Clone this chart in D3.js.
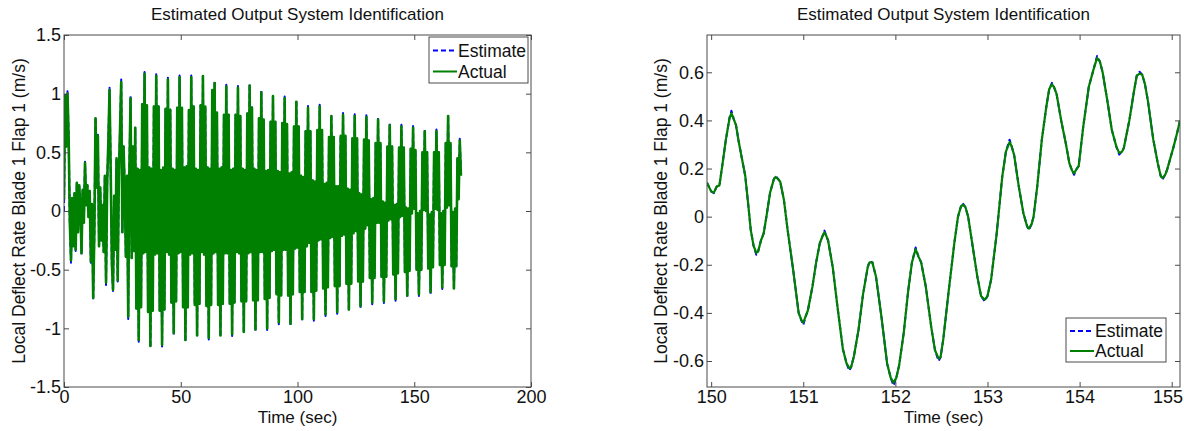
<!DOCTYPE html>
<html><head><meta charset="utf-8">
<script src="https://cdn.jsdelivr.net/npm/d3@7"></script>
<style>
body{margin:0;background:#fff;}
svg text{font-family:Arial,"Liberation Sans",Helvetica,sans-serif;fill:#111;}
</style></head><body>
<svg id="chart" width="1184" height="431"></svg>
<script>
// ---------------- data ----------------
const chartTitle = "Estimated Output System Identification";
const yAxisLabel = "Local Deflect Rate Blade 1 Flap 1 (m/s)";
const xAxisLabel = "Time (sec)";
const seriesNames = ["Estimate", "Actual"];

const leftXTicks = [0, 50, 100, 150, 200];
const leftYTicks = [-1.5, -1, -0.5, 0, 0.5, 1, 1.5];
const leftYTickLabels = ["-1.5", "-1", "-0.5", "0", "0.5", "1", "1.5"];
const rightXTicks = [150, 151, 152, 153, 154, 155];
const rightYTicks = [-0.6, -0.4, -0.2, 0, 0.2, 0.4, 0.6];
const rightYTickLabels = ["-0.6", "-0.4", "-0.2", "0", "0.2", "0.4", "0.6"];

// left panel: extremes read every 0.5 s (0 .. 170 s)
const leftSampleStep = 0.5;
const leftActualA = [0.10,0.98,0.55,1.00,0.62,-0.10,-0.42,0.11,-0.30,0.15,
 -0.33,0.24,-0.18,0.22,0.05,-0.36,0.18,-0.10,0.41,0.05,
 0.22,-0.05,0.17,-0.43,0.06,-0.74,-0.18,0.79,0.20,0.64,
 -0.30,0.20,-0.25,0.05,-0.35,0.30,-0.61,0.25,0.60,1.03,
 0.35,-0.45,-0.67,0.13,-0.33,0.45,-0.59,0.30,0.70,1.10,
 -0.18,0.55,0.20,-0.39,0.30,-0.90,0.35,0.96,-0.40,0.55];
const leftActualB = [
 -0.34,0.71,-0.83,0.36,-1.10,0.35,-0.82,0.91,-0.36,1.17,
 -0.35,0.90,-0.86,0.37,-1.15,0.36,-0.85,0.89,-0.37,1.15,
 -0.36,0.89,-0.85,0.35,-1.14,0.37,-0.84,0.87,-0.35,1.12,
 -0.37,0.86,-0.78,0.36,-1.04,0.35,-0.77,0.88,-0.36,1.14,
 -0.35,0.88,-0.82,0.37,-1.10,0.38,-0.82,0.86,-0.37,1.14,
 -0.36,0.89,-0.80,0.36,-1.06,0.35,-0.79,0.90,-0.35,1.15,
 -0.37,0.89,-0.81,0.37,-1.08,0.36,-0.80,1.03,-0.36,1.09,
 -0.35,0.84,-0.80,0.36,-1.06,0.37,-0.79,0.82,-0.36,1.06,
 -0.36,0.82,-0.79,0.35,-1.05,0.36,-0.78,0.82,-0.35,1.05,
 -0.36,0.81,-0.77,0.36,-1.03,0.35,-0.77,0.83,-0.36,1.07,
 -0.35,0.88,-0.76,0.36,-1.01,0.35,-0.76,0.79,-0.35,1.01,
 -0.35,0.78,-0.75,0.34,-1.00,0.35,-0.74,0.76,-0.34,0.98,
 -0.33,0.76,-0.71,0.34,-0.95,0.33,-0.72,0.75,-0.33,0.96,
 -0.33,0.74,-0.72,0.32,-0.96,0.33,-0.71,0.72,-0.32,0.93];
const leftActualC = [
 -0.31,0.72,-0.69,0.30,-0.92,0.29,-0.69,0.68,-0.30,0.88,
 -0.27,0.68,-0.69,0.26,-0.92,0.25,-0.68,0.69,-0.25,0.89,
 -0.24,0.69,-0.66,0.23,-0.88,0.24,-0.65,0.63,-0.23,0.81,
 -0.22,0.63,-0.64,0.21,-0.86,0.21,-0.64,0.64,-0.21,0.82,
 -0.20,0.64,-0.62,0.19,-0.84,0.18,-0.62,0.62,-0.19,0.81,
 -0.17,0.62,-0.60,0.15,-0.81,0.14,-0.60,0.61,-0.15,0.80,
 -0.12,0.60,-0.57,0.10,-0.78,0.11,-0.57,0.58,-0.10,0.78,
 -0.10,0.58,-0.56,0.08,-0.77,0.07,-0.56,0.55,-0.08,0.73,
 -0.07,0.55,-0.54,0.05,-0.75,0.06,-0.53,0.54,-0.05,0.72,
 -0.04,0.54,-0.52,0.03,-0.72,0.02,-0.51,0.53,-0.02,0.71,
 0.02,0.52,-0.50,-0.02,-0.71,0.00,-0.50,0.50,0.01,0.68,
 0.00,0.50,-0.49,-0.03,-0.69,-0.01,-0.48,0.50,0.02,0.68,
 0.01,0.50,-0.46,-0.02,-0.65,0.00,-0.46,0.58,0.03,0.81,
 0.05,0.58,-0.47,-0.01,-0.66,0.02,-0.47,0.45,0.10,0.60,
 0.30];
const leftEstimateA = [0.00,1.00,0.55,1.02,0.62,-0.10,-0.44,0.11,-0.30,0.15,
 -0.34,0.24,-0.18,0.22,0.05,-0.37,0.18,-0.10,0.42,0.05,
 0.22,-0.05,0.17,-0.44,0.06,-0.76,-0.18,0.80,0.20,0.65,
 -0.30,0.20,-0.25,0.05,-0.35,0.30,-0.63,0.25,0.60,1.05,
 0.35,-0.45,-0.69,0.13,-0.33,0.45,-0.60,0.30,0.70,1.12,
 -0.18,0.55,0.20,-0.39,0.30,-0.92,0.35,0.98,-0.40,0.55];
const leftEstimateB = [
 -0.34,0.71,-0.83,0.36,-1.115,0.35,-0.82,0.91,-0.36,1.185,
 -0.35,0.90,-0.86,0.37,-1.165,0.36,-0.85,0.89,-0.37,1.165,
 -0.36,0.89,-0.85,0.35,-1.155,0.37,-0.84,0.87,-0.35,1.135,
 -0.37,0.865,-0.78,0.36,-1.055,0.35,-0.77,0.88,-0.36,1.155,
 -0.35,0.88,-0.82,0.37,-1.115,0.38,-0.82,0.86,-0.37,1.155,
 -0.36,0.89,-0.80,0.36,-1.075,0.35,-0.79,0.90,-0.35,1.165,
 -0.37,0.89,-0.81,0.37,-1.095,0.36,-0.80,1.04,-0.36,1.105,
 -0.35,0.84,-0.80,0.36,-1.075,0.37,-0.79,0.82,-0.36,1.075,
 -0.36,0.82,-0.79,0.35,-1.065,0.36,-0.78,0.82,-0.35,1.065,
 -0.36,0.81,-0.77,0.36,-1.045,0.35,-0.77,0.83,-0.36,1.085,
 -0.35,0.885,-0.76,0.36,-1.025,0.35,-0.76,0.79,-0.35,1.025,
 -0.35,0.78,-0.75,0.34,-1.015,0.35,-0.74,0.76,-0.34,0.995,
 -0.33,0.76,-0.71,0.34,-0.965,0.33,-0.72,0.75,-0.33,0.975,
 -0.33,0.74,-0.72,0.32,-0.975,0.33,-0.71,0.72,-0.32,0.945];
const leftEstimateC = [
 -0.31,0.72,-0.69,0.30,-0.935,0.29,-0.69,0.68,-0.30,0.895,
 -0.27,0.68,-0.69,0.26,-0.935,0.25,-0.68,0.69,-0.25,0.905,
 -0.24,0.69,-0.66,0.23,-0.895,0.24,-0.65,0.63,-0.23,0.825,
 -0.22,0.63,-0.64,0.21,-0.875,0.21,-0.64,0.64,-0.21,0.835,
 -0.20,0.64,-0.62,0.19,-0.855,0.18,-0.62,0.62,-0.19,0.825,
 -0.17,0.62,-0.60,0.15,-0.825,0.14,-0.60,0.61,-0.15,0.815,
 -0.12,0.60,-0.57,0.10,-0.795,0.11,-0.57,0.58,-0.10,0.795,
 -0.10,0.58,-0.56,0.08,-0.785,0.07,-0.56,0.55,-0.08,0.745,
 -0.07,0.55,-0.54,0.05,-0.765,0.06,-0.53,0.54,-0.05,0.735,
 -0.04,0.54,-0.52,0.03,-0.735,0.02,-0.51,0.53,-0.02,0.725,
 0.02,0.52,-0.50,-0.02,-0.725,0.00,-0.50,0.50,0.01,0.695,
 0.00,0.50,-0.49,-0.03,-0.705,-0.01,-0.48,0.50,0.02,0.695,
 0.01,0.50,-0.46,-0.02,-0.665,0.00,-0.46,0.58,0.03,0.825,
 0.05,0.58,-0.47,-0.01,-0.675,0.02,-0.47,0.45,0.10,0.615,
 0.30];

// right panel: zoomed window 150 .. 155 s
const rightTime = [149.955,150.00,150.03,150.06,150.09,150.12,150.16,150.20,150.22,150.25,
 150.27,150.30,150.33,150.37,150.40,150.43,150.46,150.49,150.51,150.54,
 150.57,150.60,150.64,150.68,150.70,150.73,150.75,150.79,150.83,150.89,
 150.95,150.98,151.00,151.03,151.05,151.10,151.14,151.18,151.21,151.23,
 151.25,151.27,151.32,151.37,151.43,151.47,151.50,151.52,151.55,151.60,
 151.65,151.70,151.72,151.75,151.79,151.85,151.91,151.95,151.98,152.01,
 152.04,152.09,152.14,152.18,152.22,152.25,152.28,152.33,152.39,152.43,
 152.47,152.49,152.52,152.58,152.64,152.68,152.71,152.73,152.76,152.79,
 152.83,152.89,152.93,152.97,153.00,153.04,153.10,153.16,153.20,153.24,
 153.26,153.29,153.34,153.39,153.43,153.45,153.48,153.50,153.54,153.59,
 153.64,153.67,153.70,153.72,153.75,153.80,153.85,153.89,153.92,153.94,
 153.97,153.99,154.04,154.10,154.15,154.19,154.22,154.25,154.30,154.35,
 154.40,154.43,154.46,154.48,154.54,154.59,154.62,154.65,154.68,154.71,
 154.74,154.80,154.85,154.88,154.90,154.93,154.95,155.02,155.06,155.09];
const rightActual = [0.141,0.105,0.100,0.125,0.130,0.210,0.320,0.410,0.430,0.400,
 0.380,0.310,0.250,0.170,0.060,-0.055,-0.120,-0.150,-0.145,-0.100,
 -0.070,0.000,0.100,0.155,0.165,0.155,0.145,0.070,-0.055,-0.220,
 -0.400,-0.430,-0.440,-0.410,-0.390,-0.290,-0.190,-0.110,-0.080,-0.065,
 -0.080,-0.100,-0.210,-0.370,-0.550,-0.610,-0.630,-0.625,-0.580,-0.470,
 -0.320,-0.210,-0.190,-0.190,-0.250,-0.420,-0.610,-0.670,-0.690,-0.670,
 -0.620,-0.485,-0.305,-0.190,-0.135,-0.165,-0.190,-0.290,-0.460,-0.555,
 -0.590,-0.585,-0.510,-0.305,-0.110,0.000,0.040,0.050,0.040,0.000,
 -0.100,-0.250,-0.330,-0.345,-0.330,-0.260,-0.070,0.165,0.270,0.310,
 0.295,0.255,0.125,0.014,-0.040,-0.050,-0.030,0.000,0.125,0.320,
 0.460,0.530,0.550,0.540,0.510,0.400,0.305,0.220,0.190,0.180,
 0.200,0.210,0.375,0.540,0.610,0.660,0.645,0.600,0.485,0.360,
 0.290,0.265,0.270,0.285,0.400,0.520,0.585,0.595,0.590,0.550,
 0.485,0.320,0.220,0.170,0.160,0.175,0.195,0.290,0.350,0.400];
const rightEstimate = [0.141,0.105,0.098,0.125,0.130,0.210,0.320,0.412,0.440,0.400,
 0.380,0.310,0.250,0.170,0.060,-0.055,-0.120,-0.158,-0.145,-0.100,
 -0.070,0.000,0.100,0.155,0.170,0.155,0.145,0.070,-0.055,-0.220,
 -0.400,-0.432,-0.450,-0.410,-0.390,-0.290,-0.190,-0.110,-0.080,-0.058,
 -0.080,-0.100,-0.210,-0.370,-0.550,-0.610,-0.640,-0.625,-0.580,-0.470,
 -0.320,-0.210,-0.185,-0.190,-0.250,-0.420,-0.610,-0.670,-0.702,-0.670,
 -0.620,-0.485,-0.305,-0.190,-0.128,-0.165,-0.190,-0.290,-0.460,-0.555,
 -0.600,-0.585,-0.510,-0.305,-0.110,0.000,0.040,0.056,0.040,0.000,
 -0.100,-0.250,-0.330,-0.352,-0.330,-0.260,-0.070,0.165,0.270,0.320,
 0.295,0.255,0.125,0.014,-0.040,-0.056,-0.030,0.000,0.125,0.320,
 0.460,0.530,0.556,0.540,0.510,0.400,0.305,0.220,0.190,0.174,
 0.200,0.210,0.375,0.540,0.610,0.668,0.645,0.600,0.485,0.360,
 0.290,0.258,0.270,0.285,0.400,0.520,0.585,0.602,0.590,0.550,
 0.485,0.320,0.220,0.170,0.154,0.175,0.195,0.290,0.350,0.400];

// ---------------- drawing ----------------
const leftActual = leftActualA.concat(leftActualB, leftActualC);
const leftEstimate = leftEstimateA.concat(leftEstimateB, leftEstimateC);
const leftTime = d3.range(leftActual.length).map(i => i * leftSampleStep);

const AX = "#4a4a4a", GREEN = "#008000", BLUE = "#0000ff";
const W = 1184;
const svg = d3.select("#chart");

const panels = [
  {id:"L", x0:64, x1:531, y0:35, y1:387, xDomain:[0,200], yDomain:[-1.5,1.5],
   xTicks:leftXTicks, yTicks:leftYTicks, yLabels:leftYTickLabels,
   time:leftTime, est:leftEstimate, act:leftActual, lw:2.6,
   legend:{x:429, y:37, w:99, h:46}, ylabX:25},
  {id:"R", x0:707, x1:1180, y0:35, y1:387, xDomain:[149.955,155.09], yDomain:[-0.708,0.755],
   xTicks:rightXTicks, yTicks:rightYTicks, yLabels:rightYTickLabels,
   time:rightTime, est:rightEstimate, act:rightActual, lw:2.2,
   legend:{x:1066, y:318, w:100, h:44}, ylabX:667}
];

panels.forEach(p => {
  const x = d3.scaleLinear().domain(p.xDomain).range([p.x0, p.x1]);
  const y = d3.scaleLinear().domain(p.yDomain).range([p.y1, p.y0]);
  const g = svg.append("g");

  g.append("clipPath").attr("id", "clip" + p.id)
    .append("rect").attr("x", p.x0).attr("y", p.y0)
    .attr("width", p.x1 - p.x0).attr("height", p.y1 - p.y0);

  const line = d3.line().x(d => x(d[0])).y(d => y(d[1]));
  const estData = p.time.map((t, i) => [t, p.est[i]]);
  const actData = p.time.map((t, i) => [t, p.act[i]]);
  const plot = g.append("g").attr("clip-path", `url(#clip${p.id})`);
  plot.append("path").datum(estData).attr("d", line)
    .attr("fill", "none").attr("stroke", BLUE).attr("stroke-width", 2)
    .attr("stroke-dasharray", "5,3").attr("stroke-linejoin", "round");
  plot.append("path").datum(actData).attr("d", line)
    .attr("fill", "none").attr("stroke", GREEN).attr("stroke-width", p.lw)
    .attr("stroke-linejoin", "round");

  // axes (ticks inside on all four sides)
  const styleAxis = sel => {
    sel.select(".domain").remove();
    sel.selectAll(".tick line").attr("stroke", AX);
    sel.selectAll(".tick text").attr("fill", "#111").style("font-size", "18px")
      .style("font-family", "Arial, 'Liberation Sans', sans-serif");
  };
  const xb = g.append("g").attr("transform", `translate(0,${p.y1})`)
    .call(d3.axisBottom(x).tickValues(p.xTicks).tickSize(-5).tickPadding(3).tickFormat(d3.format("d")))
    .call(styleAxis);
  // keep the last x tick label inside the page
  xb.selectAll(".tick text").each(function() {
    const bb = this.getBBox();
    const ctm = this.getCTM();
    const right = ctm.e + bb.x + bb.width;
    if (right > W - 1) d3.select(this).attr("dx", (W - 1 - right) + "px");
  });
  g.append("g").attr("transform", `translate(0,${p.y0})`)
    .call(d3.axisTop(x).tickValues(p.xTicks).tickSize(-5).tickFormat(""))
    .call(styleAxis);
  g.append("g").attr("transform", `translate(${p.x0},0)`)
    .call(d3.axisLeft(y).tickValues(p.yTicks).tickSize(-5).tickPadding(3)
      .tickFormat((d, i) => p.yLabels[i]))
    .call(styleAxis);
  g.append("g").attr("transform", `translate(${p.x1},0)`)
    .call(d3.axisRight(y).tickValues(p.yTicks).tickSize(-5).tickFormat(""))
    .call(styleAxis);

  g.append("rect").attr("x", p.x0).attr("y", p.y0)
    .attr("width", p.x1 - p.x0).attr("height", p.y1 - p.y0)
    .attr("fill", "none").attr("stroke", AX).attr("stroke-width", 1);

  // titles & labels
  const cx = (p.x0 + p.x1) / 2;
  g.append("text").attr("x", cx).attr("y", 20).attr("text-anchor", "middle")
    .style("font-size", "17px").text(chartTitle);
  g.append("text").attr("x", cx).attr("y", 423).attr("text-anchor", "middle")
    .style("font-size", "17px").text(xAxisLabel);
  g.append("text").attr("transform", `translate(${p.ylabX},${(p.y0 + p.y1) / 2}) rotate(-90)`)
    .attr("text-anchor", "middle").style("font-size", "17.5px").text(yAxisLabel);

  // legend
  const L = p.legend;
  const lg = g.append("g");
  lg.append("rect").attr("x", L.x).attr("y", L.y).attr("width", L.w).attr("height", L.h)
    .attr("fill", "#fff").attr("stroke", AX).attr("stroke-width", 1);
  const rowH = (L.h - 4) / 2;
  seriesNames.forEach((name, i) => {
    const ry = L.y + 2 + rowH * (i + 0.5) + 1;
    lg.append("line").attr("x1", L.x + 4).attr("x2", L.x + 28).attr("y1", ry).attr("y2", ry)
      .attr("stroke", i === 0 ? BLUE : GREEN).attr("stroke-width", 2)
      .attr("stroke-dasharray", i === 0 ? "5,3" : null);
    lg.append("text").attr("x", L.x + 29).attr("y", ry + 6)
      .style("font-size", "17.5px").text(name);
  });
});
</script>
</body></html>
